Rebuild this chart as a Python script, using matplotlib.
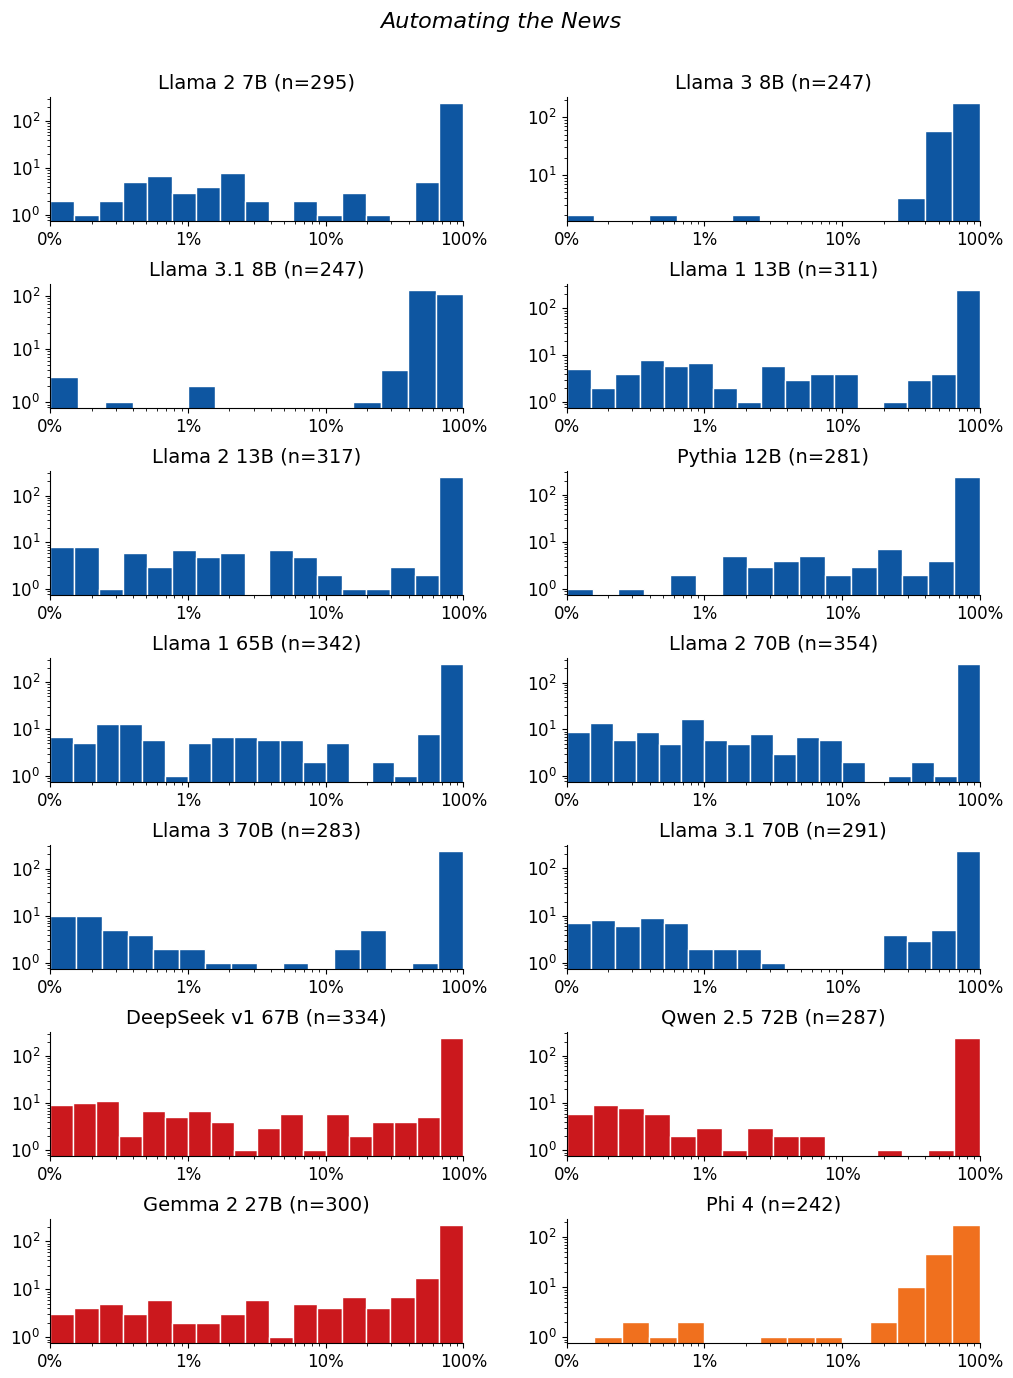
import matplotlib
matplotlib.use("Agg")
import matplotlib.pyplot as plt
import numpy as np

# counts per log-spaced bin (0.1% .. 100%)
titles = ["Llama 2 7B (n=295)", "Llama 3 8B (n=247)",
          "Llama 3.1 8B (n=247)", "Llama 1 13B (n=311)",
          "Llama 2 13B (n=317)", "Pythia 12B (n=281)",
          "Llama 1 65B (n=342)", "Llama 2 70B (n=354)",
          "Llama 3 70B (n=283)", "Llama 3.1 70B (n=291)",
          "DeepSeek v1 67B (n=334)", "Qwen 2.5 72B (n=287)",
          "Gemma 2 27B (n=300)", "Phi 4 (n=242)"]

llama2_7b = [2, 1, 2, 5, 7, 3, 4, 8, 2, 0, 2, 1, 3, 1, 0, 5, 249]
llama3_8b = [2, 0, 0, 2, 0, 0, 2, 0, 0, 0, 0, 0, 4, 57, 180]
llama31_8b = [3, 0, 1, 0, 0, 2, 0, 0, 0, 0, 0, 1, 4, 130, 106]
llama1_13b = [5, 2, 4, 8, 6, 7, 2, 1, 6, 3, 4, 4, 0, 1, 3, 4, 251]
llama2_13b = [8, 8, 1, 6, 3, 7, 5, 6, 0, 7, 5, 2, 1, 1, 3, 2, 252]
pythia_12b = [1, 0, 1, 0, 2, 0, 5, 3, 4, 5, 2, 3, 7, 2, 4, 242]
llama1_65b = [7, 5, 13, 13, 6, 1, 5, 7, 7, 6, 6, 2, 5, 0, 2, 1, 8, 248]
llama2_70b = [9, 14, 6, 9, 5, 17, 6, 5, 8, 3, 7, 6, 2, 0, 1, 2, 1, 253]
llama3_70b = [10, 10, 5, 4, 2, 2, 1, 1, 0, 1, 0, 2, 5, 0, 1, 239]
llama31_70b = [7, 8, 6, 9, 7, 2, 2, 2, 1, 0, 0, 0, 0, 4, 3, 5, 235]
deepseek_67b = [9, 10, 11, 2, 7, 5, 7, 4, 1, 3, 6, 1, 6, 2, 4, 4, 5, 247]
qwen25_72b = [6, 9, 8, 6, 2, 3, 1, 3, 2, 2, 0, 0, 1, 0, 1, 243]
gemma2_27b = [3, 4, 5, 3, 6, 2, 2, 3, 6, 1, 5, 4, 7, 4, 7, 17, 221]
phi4 = [0, 1, 2, 1, 2, 0, 0, 1, 1, 1, 0, 2, 10, 45, 176]

counts = [llama2_7b, llama3_8b, llama31_8b, llama1_13b, llama2_13b,
          pythia_12b, llama1_65b, llama2_70b, llama3_70b, llama31_70b,
          deepseek_67b, qwen25_72b, gemma2_27b, phi4]

blue = "#0e56a1"
red = "#cb181d"
orange = "#f0701e"
colors = [blue] * 10 + [red] * 3 + [orange]

fig, axes = plt.subplots(7, 2, figsize=(10.13, 13.78), dpi=100)
fig.subplots_adjust(left=0.0494, right=0.9674, bottom=0.0254, top=0.9296,
                    wspace=0.25, hspace=0.51)

for ax, title, c, col in zip(axes.flat, titles, counts, colors):
    c = np.array(c)
    edges = np.logspace(-3, 0, len(c) + 1)
    ax.bar(edges[:-1], c, width=np.diff(edges), align="edge",
           color=col, edgecolor="white", linewidth=1)
    ax.set_xscale("log")
    ax.set_yscale("log")
    ax.set_xlim(1e-3, 1)
    ax.set_xticks([1e-3, 1e-2, 1e-1, 1])
    ax.set_xticklabels(["0%", "1%", "10%", "100%"])
    ax.tick_params(labelsize=12)
    ax.set_title(title, fontsize=14)
    ax.spines["top"].set_visible(False)
    ax.spines["right"].set_visible(False)

fig.suptitle("Automating the News", fontsize=16, style="italic",
             x=0.494, y=0.984, va="center")

fig.savefig("out.png", dpi=100)
